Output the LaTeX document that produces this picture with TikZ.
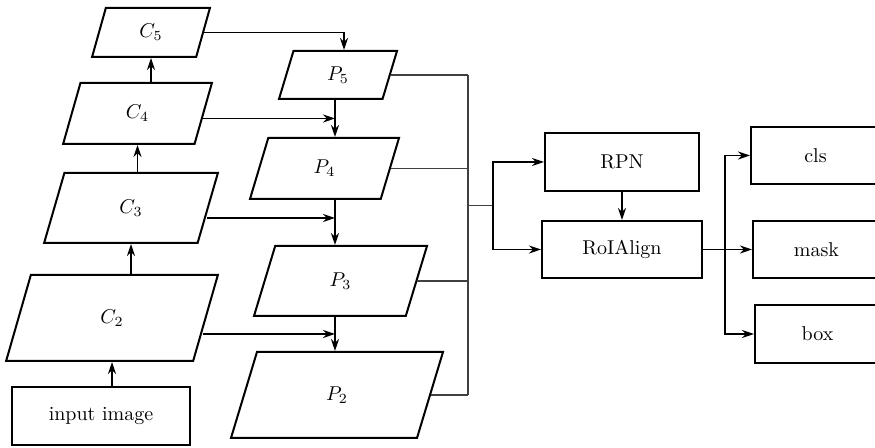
\documentclass[tikz,border=0pt]{standalone}
\usepackage{amsmath}
\usetikzlibrary{shapes.geometric, arrows.meta, positioning, calc}

\begin{document}
\begin{tikzpicture}[x=0.5pt, y=-0.5pt,
    feat/.style={trapezium, draw, line width=1pt, trapezium left angle=78, trapezium right angle=102, trapezium stretches=true, inner sep=0pt},
    blk/.style={rectangle, draw, line width=1pt, inner sep=0pt, minimum height=28.5pt},
    arr/.style={-{Stealth[length=6pt,width=4pt,inset=2pt]}, line width=0.7pt},
    bus/.style={line width=0.55pt, black!75}]
    \useasboundingbox (0,0) rectangle (875,448);

    % Define nodes
    \node [feat, minimum width=59pt, minimum height=24.5pt] (C5) at (151,32.5) {$C_5$};
    \node [feat, minimum width=74.5pt, minimum height=30.5pt] (C4) at (137.5,113.5) {$C_4$};
    \node [feat, minimum width=87pt, minimum height=35pt] (C3) at (131,208) {$C_3$};
    \node [feat, minimum width=106pt, minimum height=43pt] (C2) at (112,318) {$C_2$};
    \node [blk, minimum width=89pt, minimum height=29pt] (input) at (101,416) {input image};

    \node [feat, minimum width=59pt, minimum height=24pt] (P5) at (338,75) {$P_5$};
    \node [feat, minimum width=74.5pt, minimum height=30.5pt] (P4) at (324.5,168.5) {$P_4$};
    \node [feat, minimum width=86.5pt, minimum height=35pt] (P3) at (340.5,281) {$P_3$};
    \node [feat, minimum width=106pt, minimum height=43pt] (P2) at (337,395) {$P_2$};

    \node [blk, minimum width=77pt, minimum height=29pt] (RPN) at (622,162) {RPN};
    \node [blk, minimum width=80pt] (RoI) at (622,249.5) {RoIAlign};
    \node [blk, minimum width=64.5pt] (cls) at (815.5,155.5) {cls};
    \node [blk, minimum width=63.5pt] (mask) at (816.5,249.5) {mask};
    \node [blk, minimum width=62.5pt, minimum height=29pt] (box) at (817.5,334) {box};

    \coordinate (spine) at (335,0);
    \coordinate (bus) at (468,0);
    \coordinate (fork) at (493,0);
    \coordinate (split) at (725,0);

    % Bottom-up pathway
    \draw[arr] (C2.south |- input.north) -- (C2.south);
    \draw[arr] (C3.south |- C2.north) -- (C3.south);
    \draw[arr] (C4.south |- C3.north) -- (C4.south);
    \draw[arr] (C5.south |- C4.north) -- (C5.south);

    % Top-down pathway and lateral links
    \draw[arr] (C5.east) -| ([xshift=3pt]P5.north);
    \draw[arr] (P5.south -| spine) -- (P4.north -| spine);
    \draw[arr] (P4.south -| spine) -- (P3.north -| spine);
    \draw[arr] (P3.south -| spine) -- (P2.north -| spine);

    \coordinate (j4) at ($(P5.south -| spine)!0.5!(P4.north -| spine)$);
    \coordinate (j3) at ($(P4.south -| spine)!0.4!(P3.north -| spine)$);
    \coordinate (j2) at ($(P3.south -| spine)!0.5!(P2.north -| spine)$);
    \draw[arr] ($(C4.east |- j4)+(-1,0)$) -- (j4);
    \draw[arr] ($(C3.east |- j3)+(-2,0)$) -- (j3);
    \draw[arr] ($(C2.east |- j2)+(-3.5,0)$) -- (j2);

    % Feature maps to heads
    \draw[bus] (P5.east) -- (P5.east -| bus);
    \draw[bus] (P4.east) -- (P4.east -| bus);
    \draw[bus] (P3.east) -- (P3.east -| bus);
    \draw[bus] (P2.east) -- (P2.east -| bus);
    \draw[bus] (P5.east -| bus) -- (P2.east -| bus);
    \coordinate (jn) at ($(RPN.west)!0.5!(RoI.west)$);
    \draw[bus] (jn -| bus) -- (jn -| fork);
    \draw[arr] (jn -| fork) |- (RPN.west);
    \draw[arr] (jn -| fork) |- (RoI.west);
    \draw[arr] (RPN) -- (RoI);

    \draw[arr] (RoI) -- (mask);
    \draw[arr] (RoI.east -| split) |- (cls.west);
    \draw[arr] (RoI.east -| split) |- (box.west);
\end{tikzpicture}
\end{document}
